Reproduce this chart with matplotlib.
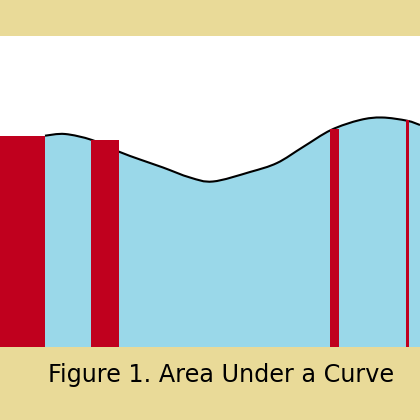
import matplotlib
matplotlib.use("Agg")
import matplotlib.pyplot as plt
from matplotlib.path import Path
from matplotlib.patches import PathPatch

# curve heights (pixel-derived units above baseline)
curve_x = [45, 65, 92, 119, 140, 163, 190, 213, 250, 277, 303, 331, 360, 382, 407, 420]
curve_y = [211.3, 213, 207, 195.3, 187.5, 179.5, 169.5, 165.5, 175, 184, 200, 217, 227, 229.5, 226.3, 222]

bar_left = [0, 91, 330, 405.5]
bar_width = [45, 28, 9, 3.5]
bar_height = [211, 207, 218, 227]

caption = "Figure 1. Area Under a Curve"

tan = "#E9DA98"
blue = "#9AD8E9"
red = "#C0001E"


def smooth_path_vertices(xs, ys):
    """Catmull-Rom -> cubic Bezier control points for rendering a smooth line."""
    verts = [(xs[0], ys[0])]
    codes = [Path.MOVETO]
    n = len(xs)
    for i in range(n - 1):
        x0, y0 = (xs[i - 1], ys[i - 1]) if i > 0 else (xs[i], ys[i])
        x1, y1 = xs[i], ys[i]
        x2, y2 = xs[i + 1], ys[i + 1]
        x3, y3 = (xs[i + 2], ys[i + 2]) if i + 2 < n else (x2, y2)
        c1 = (x1 + (x2 - x0) / 6, y1 + (y2 - y0) / 6)
        c2 = (x2 - (x3 - x1) / 6, y2 - (y3 - y1) / 6)
        verts += [c1, c2, (x2, y2)]
        codes += [Path.CURVE4] * 3
    return verts, codes


fig = plt.figure(figsize=(4.2, 4.2), dpi=100, facecolor=tan)
ax = fig.add_axes([0, 73 / 420, 1, 311 / 420])
ax.set_facecolor("white")

verts, codes = smooth_path_vertices(curve_x, curve_y)
fill_verts = verts + [(curve_x[-1], 0), (curve_x[0], 0), (curve_x[0], curve_y[0])]
fill_codes = codes + [Path.LINETO, Path.LINETO, Path.CLOSEPOLY]
ax.add_patch(PathPatch(Path(fill_verts, fill_codes), facecolor=blue, lw=0, zorder=1))
ax.add_patch(PathPatch(Path(verts, codes), facecolor="none", edgecolor="black", lw=1.5, zorder=2))

ax.bar(bar_left, bar_height, width=bar_width, align="edge", color=red, lw=0, zorder=3)
ax.set_xlim(0, 420)
ax.set_ylim(0, 311)
ax.set_xticks([])
ax.set_yticks([])
for s in ax.spines.values():
    s.set_visible(False)

fig.text(48 / 420, 1 - 375 / 420, caption, ha="left", va="center",
         fontsize=17.2, family=["DejaVu Sans"], color="black")

fig.savefig("out.png", dpi=100, facecolor=tan)
